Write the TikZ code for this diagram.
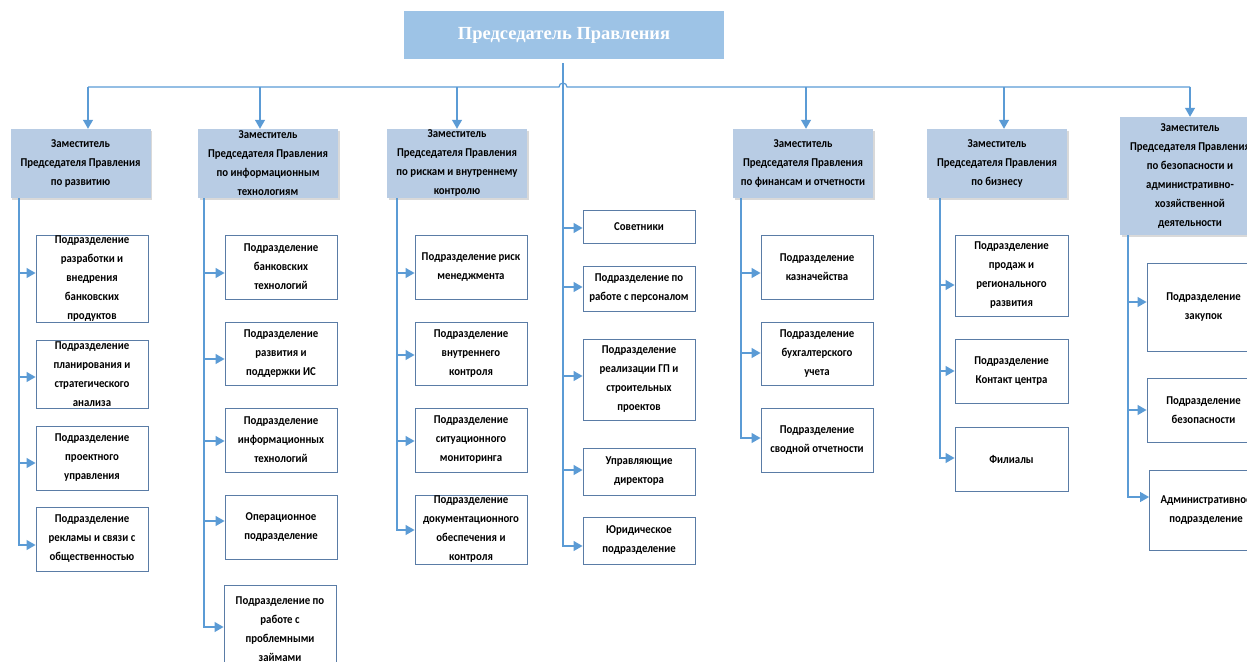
\documentclass[tikz,border=0pt]{standalone}
\usepackage{fontspec}
\setmainfont{Carlito}[FakeStretch=0.9]
\newfontfamily\titlefont{Liberation Serif}
\usetikzlibrary{arrows.meta,shadows}
\definecolor{lineblue}{HTML}{5B9BD5}
\definecolor{topfill}{HTML}{9DC3E6}
\definecolor{depfill}{HTML}{B8CCE4}
\definecolor{boxedge}{HTML}{5A7CA6}
\begin{document}
\begin{tikzpicture}[x=1pt,y=-1pt,
  topbox/.style={fill=topfill,draw=none,minimum width=320pt,minimum height=48pt,inner sep=0pt,
    font=\titlefont\bfseries\fontsize{18.5}{22}\selectfont,text=white},
  depbox/.style={fill=depfill,draw=none,minimum width=140pt,inner sep=0pt,align=center,
    font=\bfseries\fontsize{12}{19}\selectfont,
    drop shadow={opacity=0.25,shadow xshift=1.5pt,shadow yshift=-1.5pt,fill=black!60}},
  subbox/.style={fill=white,draw=boxedge,line width=0.9pt,minimum width=112pt,inner sep=0pt,align=center,
    font=\bfseries\fontsize{12}{19}\selectfont},
  conn/.style={draw=lineblue,line width=1.2pt},
  arr/.style={conn,-{Triangle[length=9pt,width=10pt]}}]
\useasboundingbox (0,0) rectangle (1247,661);
% top
\node[topbox] (top) at (564,35) {Председатель Правления};
% deputies
\node[depbox,minimum height=69pt] (D1) at (80.5,163.5) {Заместитель\\Председателя Правления\\по развитию};
\node[depbox,minimum height=69pt] (D2) at (268,163.5) {Заместитель\\Председателя Правления\\по информационным\\технологиям};
\node[depbox,minimum height=69pt] (D3) at (457,163.5) {Заместитель\\Председателя Правления\\по рискам и внутреннему\\контролю};
\node[depbox,minimum height=69pt] (D5) at (803,163.5) {Заместитель\\Председателя Правления\\по финансам и отчетности};
\node[depbox,minimum height=69pt] (D6) at (997,163.5) {Заместитель\\Председателя Правления\\по бизнесу};
\node[depbox,minimum height=118pt] (D7) at (1190,176) {Заместитель\\Председателя Правления\\по безопасности и\\административно-\\хозяйственной\\деятельности};
% column 1
\node[subbox,minimum height=87pt] (B1) at (92,278.5) {Подразделение\\разработки и\\внедрения\\банковских\\продуктов};
\node[subbox,minimum height=68pt] (B2) at (92,374) {Подразделение\\планирования и\\стратегического\\анализа};
\node[subbox,minimum height=64pt] (B3) at (92,458) {Подразделение\\проектного\\управления};
\node[subbox,minimum height=64pt] (B4) at (92,539) {Подразделение\\рекламы и связи с\\общественностью};
% column 2
\node[subbox,minimum height=64pt] (C1) at (281,267) {Подразделение\\банковских\\технологий};
\node[subbox,minimum height=63pt] (C2) at (281,353.5) {Подразделение\\развития и\\поддержки ИС};
\node[subbox,minimum height=64pt] (C3) at (281,440) {Подразделение\\информационных\\технологий};
\node[subbox,minimum height=64pt] (C4) at (281,527) {Операционное\\подразделение};
\node[subbox,minimum height=87pt] (C5) at (280,629) {Подразделение по\\работе с\\проблемными\\займами};
% column 3
\node[subbox,minimum height=64pt] (R1) at (471,267) {Подразделение риск\\менеджмента};
\node[subbox,minimum height=63pt] (R2) at (471,353.5) {Подразделение\\внутреннего\\контроля};
\node[subbox,minimum height=64pt] (R3) at (471,440) {Подразделение\\ситуационного\\мониторинга};
\node[subbox,minimum height=69pt] (R4) at (471,529.5) {Подразделение\\документационного\\обеспечения и\\контроля};
% column 4 (central)
\node[subbox,minimum height=33pt] (S1) at (639,226.5) {Советники};
\node[subbox,minimum height=45pt] (S2) at (639,288.5) {Подразделение по\\работе с персоналом};
\node[subbox,minimum height=81pt] (S3) at (639,379.5) {Подразделение\\реализации ГП и\\строительных\\проектов};
\node[subbox,minimum height=47pt] (S4) at (639,471.5) {Управляющие\\директора};
\node[subbox,minimum height=47pt] (S5) at (639,540.5) {Юридическое\\подразделение};
% column 5
\node[subbox,minimum height=64pt] (F1) at (817,267) {Подразделение\\казначейства};
\node[subbox,minimum height=63pt] (F2) at (817,353.5) {Подразделение\\бухгалтерского\\учета};
\node[subbox,minimum height=64pt] (F3) at (817,440) {Подразделение\\сводной отчетности};
% column 6
\node[subbox,minimum width=113pt,minimum height=81pt] (G1) at (1011.5,275.5) {Подразделение\\продаж и\\регионального\\развития};
\node[subbox,minimum width=113pt,minimum height=64pt] (G2) at (1011.5,371) {Подразделение\\Контакт центра};
\node[subbox,minimum width=113pt,minimum height=64pt] (G3) at (1011.5,459) {Филиалы};
% column 7
\node[subbox,minimum width=113pt,minimum height=88pt] (H1) at (1203.5,307) {Подразделение\\закупок};
\node[subbox,minimum width=113pt,minimum height=64pt] (H2) at (1203.5,410) {Подразделение\\безопасности};
\node[subbox,minimum width=113pt,minimum height=80pt] (H3) at (1206,510) {Административное\\подразделение};
% spine coordinates
\coordinate (sp1) at (19,0);
\coordinate (sp2) at (204,0);
\coordinate (sp3) at (397,0);
\coordinate (sp4) at (563,0);
\coordinate (sp5) at (741,0);
\coordinate (sp6) at (940,0);
\coordinate (sp7) at (1128,0);
% bus with hop
\draw[conn] (88,87) -- (559,87) arc[start angle=180,end angle=0,radius=4pt] -- (1190,87);
\draw[arr] (88,87) -- (D1.north -| 88,0);
\draw[arr] (260,87) -- (D2.north -| 260,0);
\draw[arr] (457,87) -- (D3.north -| 457,0);
\draw[arr] (806,87) -- (D5.north -| 806,0);
\draw[arr] (1004,87) -- (D6.north -| 1004,0);
\draw[arr] (1190,87) -- (D7.north -| 1190,0);
% central trunk
\draw[arr] ([yshift=-4pt]top.south -| sp4) |- (S5.west |- 0,546);
\draw[arr] (sp4 |- 0,228) -- (S1.west |- 0,228);
\draw[arr] (sp4 |- 0,287) -- (S2.west |- 0,287);
\draw[arr] (sp4 |- 0,376) -- (S3.west |- 0,376);
\draw[arr] (sp4 |- 0,470) -- (S4.west |- 0,470);
% column 1
\draw[arr] (D1.south -| sp1) |- (B4.west |- 0,545);
\draw[arr] (sp1 |- 0,273) -- (B1.west |- 0,273);
\draw[arr] (sp1 |- 0,377) -- (B2.west |- 0,377);
\draw[arr] (sp1 |- 0,463) -- (B3.west |- 0,463);
% column 2
\draw[arr] (D2.south -| sp2) |- (C5.west |- 0,627);
\draw[arr] (sp2 |- 0,273) -- (C1.west |- 0,273);
\draw[arr] (sp2 |- 0,359) -- (C2.west |- 0,359);
\draw[arr] (sp2 |- 0,441) -- (C3.west |- 0,441);
\draw[arr] (sp2 |- 0,521) -- (C4.west |- 0,521);
% column 3
\draw[arr] (D3.south -| sp3) |- (R4.west |- 0,530);
\draw[arr] (sp3 |- 0,273) -- (R1.west |- 0,273);
\draw[arr] (sp3 |- 0,355) -- (R2.west |- 0,355);
\draw[arr] (sp3 |- 0,441) -- (R3.west |- 0,441);
% column 5
\draw[arr] (D5.south -| sp5) |- (F3.west |- 0,438);
\draw[arr] (sp5 |- 0,273) -- (F1.west |- 0,273);
\draw[arr] (sp5 |- 0,353) -- (F2.west |- 0,353);
% column 6
\draw[arr] (D6.south -| sp6) |- (G3.west |- 0,458);
\draw[arr] (sp6 |- 0,285) -- (G1.west |- 0,285);
\draw[arr] (sp6 |- 0,371) -- (G2.west |- 0,371);
% column 7
\draw[arr] (D7.south -| sp7) |- (H3.west |- 0,497);
\draw[arr] (sp7 |- 0,302) -- (H1.west |- 0,302);
\draw[arr] (sp7 |- 0,410) -- (H2.west |- 0,410);
\end{tikzpicture}
\end{document}
